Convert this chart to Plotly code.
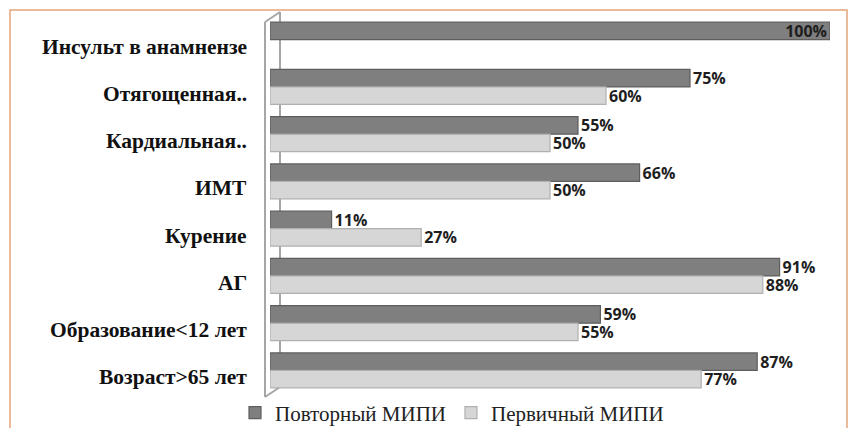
import plotly.graph_objects as go

categories = ["Инсульт в анамнензе", "Отягощенная..", "Кардиальная..", "ИМТ",
              "Курение", "АГ", "Образование<12 лет", "Возраст>65 лет"]
repeat_vals = [100, 75, 55, 66, 11, 91, 59, 87]
primary_vals = [None, 60, 50, 50, 27, 88, 55, 77]
series_names = ["Повторный МИПИ", "Первичный МИПИ"]

W, H = 850, 428
ML, MR, MT, MB = 270, 20, 16, 34
PW, PH = W - ML - MR, H - MT - MB


def px(xp):
    return (xp - ML) / PW


def py(yp):
    return (H - MB - yp) / PH


def labels(vals):
    return [("" if v is None else f"{v}%") for v in vals]


val_font = dict(family="Open Sans", size=16, color="#1e1e1e", weight="bold")

fig = go.Figure()
fig.add_trace(go.Bar(
    y=categories, x=repeat_vals, orientation="h", name=series_names[0],
    marker=dict(color="#7f7f7f", line=dict(color="#5e5e5e", width=1.2)),
    text=labels(repeat_vals),
    textposition=["inside" if v >= 100 else "outside" for v in repeat_vals],
    insidetextanchor="end", textfont=val_font, insidetextfont=val_font,
    outsidetextfont=val_font, cliponaxis=False, constraintext="none",
))
fig.add_trace(go.Bar(
    y=categories, x=primary_vals, orientation="h", name=series_names[1],
    marker=dict(color="#d6d6d6", line=dict(color="#b0b0b0", width=1.2)),
    text=labels(primary_vals), textposition="outside",
    textfont=val_font, outsidetextfont=val_font, cliponaxis=False, constraintext="none",
))

# category labels as annotations (slightly lowered as in the reference)
for c in categories:
    fig.add_annotation(
        x=px(249), xref="paper", y=c, yref="y", text=c, showarrow=False,
        xanchor="right", yanchor="middle", yshift=-7,
        font=dict(family="Liberation Serif", size=21.5, color="#111111", weight="bold"),
    )

wall = dict(color="#a6a6a6", width=2)
shapes = [
    dict(type="line", xref="paper", yref="paper", x0=px(265), y0=py(22), x1=px(265), y1=py(397), line=wall, layer="below"),
    dict(type="line", xref="paper", yref="paper", x0=px(265), y0=py(22), x1=px(280), y1=py(12), line=wall, layer="below"),
    dict(type="line", xref="paper", yref="paper", x0=px(280), y0=py(12), x1=px(280), y1=py(387), line=wall, layer="below"),
    dict(type="line", xref="paper", yref="paper", x0=px(265), y0=py(397), x1=px(280), y1=py(387), line=wall, layer="below"),
    dict(type="rect", xref="paper", yref="paper", x0=px(10), y0=py(440), x1=px(847), y1=py(10),
         line=dict(color="#e3a57a", width=1.5), layer="below"),
]

legend_font = dict(family="Liberation Serif", size=21, color="#222222")

fig.update_layout(
    width=W, height=H,
    font=dict(family="Liberation Serif", size=21, color="#222222"),
    margin=dict(l=ML, r=MR, t=MT, b=MB, autoexpand=False),
    paper_bgcolor="white", plot_bgcolor="white",
    barmode="group", bargap=0.26, bargroupgap=0,
    xaxis=dict(range=[0, 100], visible=False, showgrid=False, zeroline=False),
    yaxis=dict(autorange="reversed", showticklabels=False, showgrid=False,
               zeroline=False, showline=False, ticks=""),
    legend=dict(orientation="h", xref="container", yref="container",
                x=452 / W, xanchor="center", y=(H - 413) / H, yanchor="middle",
                font=legend_font, itemwidth=30, traceorder="normal",
                bgcolor="rgba(0,0,0,0)"),
    shapes=shapes,
    showlegend=True,
)

fig.write_html("out.html")
